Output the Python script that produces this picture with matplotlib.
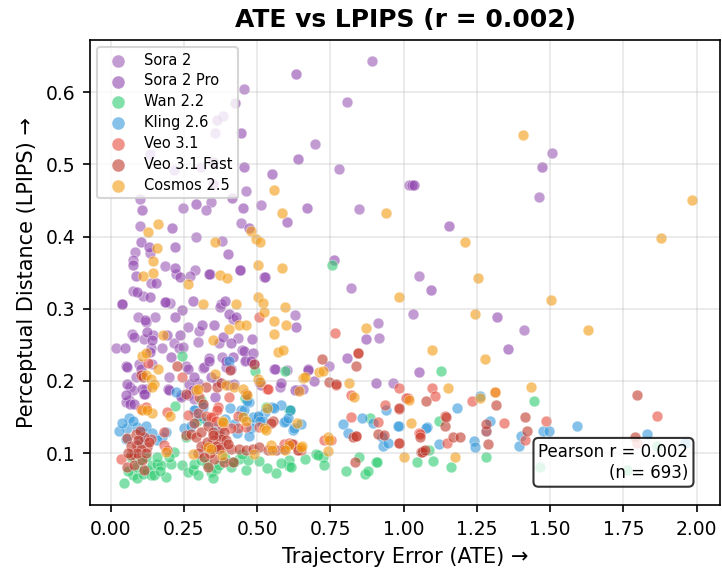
import matplotlib
matplotlib.use("Agg")
import matplotlib.pyplot as plt

# ATE vs LPIPS per model
sora2_x = [0.892, 0.456, 0.807, 0.385, 0.357, 0.699, 0.779, 0.134, 0.308, 0.217, 1.018, 0.462,
           0.100, 0.344, 0.248, 0.325, 0.512, 0.847, 0.102, 0.445, 0.291, 0.382, 0.135, 0.083,
           0.076, 0.187, 0.225, 0.289, 0.443, 1.506, 1.462, 1.052, 1.032, 1.411, 0.272, 0.137,
           0.075, 0.112, 0.038, 0.203, 0.377, 0.821, 0.095, 0.151, 0.120, 0.263, 0.303, 0.374,
           0.419, 0.630, 0.072, 0.146, 0.115, 0.215, 0.300, 0.371, 0.434, 0.912, 0.916, 0.018,
           0.137, 0.174, 0.234, 0.097, 0.257, 0.317, 0.382, 0.411, 0.447, 0.462, 0.491, 0.601,
           0.744, 0.066, 0.063, 0.118, 0.240, 0.297, 0.405, 0.579, 0.656, 0.963, 0.054, 0.078,
           0.120, 0.263, 0.285, 0.639, 0.320, 0.365, 0.459, 0.559, 0.088, 0.200, 0.143, 0.189,
           0.525, 0.249, 0.337, 0.394, 0.422]
sora2_y = [0.643, 0.605, 0.587, 0.567, 0.544, 0.528, 0.493, 0.515, 0.496, 0.492, 0.472, 0.463,
           0.452, 0.448, 0.440, 0.437, 0.443, 0.438, 0.414, 0.419, 0.399, 0.394, 0.377, 0.379,
           0.367, 0.359, 0.348, 0.353, 0.354, 0.516, 0.455, 0.346, 0.292, 0.270, 0.346, 0.335,
           0.325, 0.318, 0.307, 0.308, 0.307, 0.329, 0.289, 0.289, 0.281, 0.275, 0.269, 0.302,
           0.286, 0.291, 0.265, 0.264, 0.258, 0.252, 0.254, 0.252, 0.260, 0.280, 0.259, 0.246,
           0.246, 0.245, 0.245, 0.224, 0.221, 0.218, 0.233, 0.216, 0.243, 0.229, 0.224, 0.215,
           0.220, 0.192, 0.173, 0.182, 0.180, 0.197, 0.194, 0.191, 0.189, 0.197, 0.171, 0.188,
           0.189, 0.181, 0.175, 0.187, 0.219, 0.200, 0.228, 0.217, 0.205, 0.205, 0.224, 0.309,
           0.344, 0.247, 0.231, 0.219, 0.196]

sora2pro_x = [0.633, 0.425, 0.363, 0.445, 0.640, 0.348, 0.456, 0.550, 0.350, 0.414, 0.109,
              0.293, 0.451, 0.669, 0.602, 0.209, 0.474, 0.103, 0.131, 0.220, 0.400, 0.075,
              0.762, 0.220, 0.237, 0.338, 0.526, 0.086, 1.473, 1.030, 1.035, 1.154, 1.093,
              1.319, 1.357, 1.052, 0.154, 0.092, 0.135, 0.186, 0.281, 0.389, 0.245, 0.117,
              0.220, 0.312, 0.354, 0.405, 0.428, 0.633, 0.080, 0.124, 0.140, 0.194, 0.237,
              0.385, 0.411, 0.483, 0.873, 0.050, 0.135, 0.208, 0.054, 0.103, 0.266, 0.337,
              0.394, 0.419, 0.456, 0.485, 0.562, 0.673, 0.806, 0.057, 0.052, 0.109, 0.197,
              0.268, 0.356, 0.508, 0.582, 0.630, 0.907, 0.067, 0.080, 0.115, 0.198, 0.242,
              0.280, 0.514, 0.696, 0.343, 0.479, 0.675, 0.285, 0.055, 0.040, 0.337, 0.443]
sora2pro_y = [0.625, 0.585, 0.562, 0.544, 0.507, 0.503, 0.496, 0.486, 0.473, 0.453, 0.437,
              0.445, 0.439, 0.440, 0.420, 0.412, 0.412, 0.393, 0.386, 0.386, 0.376, 0.361,
              0.367, 0.357, 0.344, 0.348, 0.344, 0.346, 0.497, 0.472, 0.471, 0.414, 0.326,
              0.289, 0.244, 0.212, 0.335, 0.323, 0.316, 0.309, 0.310, 0.311, 0.298, 0.284,
              0.289, 0.277, 0.277, 0.293, 0.288, 0.275, 0.261, 0.268, 0.256, 0.264, 0.263,
              0.261, 0.252, 0.258, 0.258, 0.245, 0.240, 0.233, 0.220, 0.217, 0.216, 0.228,
              0.228, 0.233, 0.241, 0.238, 0.216, 0.216, 0.231, 0.196, 0.180, 0.189, 0.189,
              0.195, 0.178, 0.198, 0.197, 0.187, 0.197, 0.168, 0.168, 0.182, 0.188, 0.178,
              0.188, 0.194, 0.200, 0.206, 0.228, 0.215, 0.206, 0.219, 0.306, 0.348, 0.353]

wan_x = [0.757, 1.129, 1.445, 1.280, 1.864, 1.467, 1.762, 1.121, 1.086, 1.047, 1.102, 1.162,
         0.244, 0.597, 0.493, 0.221, 0.460, 0.531, 0.610, 0.884, 0.847, 0.906, 0.804, 0.867,
         0.878, 0.702, 0.724, 0.730, 0.662, 0.608, 0.610, 0.582, 0.565, 0.533, 0.508, 0.462,
         0.308, 0.295, 0.317, 0.217, 0.046, 0.075, 0.092, 0.112, 0.126, 0.143, 0.160, 0.172,
         0.188, 0.206, 0.137, 0.069, 0.158, 0.245, 0.263, 0.280, 0.285, 0.257, 0.343, 0.359,
         0.439, 0.468, 0.616, 0.707, 0.909, 0.614, 0.090, 0.100, 0.150, 0.170, 0.200, 0.060,
         0.120, 0.310, 0.330, 0.370, 0.390, 0.410, 0.300, 0.350, 0.420, 0.450]
wan_y = [0.360, 0.214, 0.172, 0.094, 0.110, 0.081, 0.076, 0.144, 0.104, 0.088, 0.089, 0.080,
         0.234, 0.213, 0.213, 0.165, 0.176, 0.164, 0.160, 0.148, 0.094, 0.088, 0.075, 0.071,
         0.075, 0.098, 0.094, 0.084, 0.092, 0.091, 0.082, 0.086, 0.072, 0.079, 0.089, 0.076,
         0.173, 0.145, 0.148, 0.101, 0.058, 0.069, 0.065, 0.071, 0.076, 0.083, 0.085, 0.083,
         0.067, 0.085, 0.069, 0.094, 0.094, 0.084, 0.074, 0.076, 0.085, 0.122, 0.074, 0.078,
         0.092, 0.090, 0.081, 0.097, 0.088, 0.159, 0.080, 0.090, 0.070, 0.075, 0.095, 0.075,
         0.095, 0.090, 0.085, 0.083, 0.093, 0.080, 0.070, 0.066, 0.087, 0.098]

kling_x = [0.986, 1.081, 1.121, 1.260, 1.184, 1.294, 1.283, 1.476, 1.496, 1.402, 1.394, 1.591,
           1.832, 1.960, 1.241, 1.243, 0.405, 0.223, 0.289, 0.293, 0.303, 0.407, 0.445, 0.471,
           0.528, 0.551, 0.582, 0.599, 0.508, 0.496, 0.519, 0.624, 0.795, 0.810, 0.859, 0.897,
           0.941, 0.980, 0.927, 0.929, 0.946, 0.285, 0.314, 0.063, 0.057, 0.052, 0.092, 0.109,
           0.120, 0.177, 0.188, 0.251, 0.274, 0.454, 0.466, 0.448, 0.485, 0.502, 0.511, 0.479,
           0.474, 0.559, 0.614, 0.593, 0.625, 0.605, 1.078, 0.030, 0.075, 0.100, 0.140, 0.160,
           0.040, 0.330, 0.360, 0.390, 0.420, 0.430, 0.370, 0.650]
kling_y = [0.137, 0.136, 0.113, 0.179, 0.162, 0.145, 0.130, 0.130, 0.130, 0.124, 0.110, 0.138,
           0.126, 0.114, 0.116, 0.108, 0.228, 0.185, 0.160, 0.155, 0.152, 0.162, 0.159, 0.171,
           0.157, 0.164, 0.166, 0.145, 0.150, 0.145, 0.145, 0.132, 0.140, 0.128, 0.148, 0.142,
           0.159, 0.137, 0.122, 0.110, 0.114, 0.159, 0.164, 0.148, 0.134, 0.120, 0.136, 0.129,
           0.138, 0.122, 0.129, 0.134, 0.138, 0.159, 0.172, 0.150, 0.150, 0.152, 0.145, 0.134,
           0.124, 0.162, 0.159, 0.143, 0.134, 0.148, 0.135, 0.130, 0.145, 0.117, 0.128, 0.118,
           0.142, 0.145, 0.138, 0.147, 0.140, 0.128, 0.128, 0.140]

veo_x = [1.097, 1.107, 1.014, 1.232, 1.312, 1.486, 1.342, 1.283, 1.414, 1.864, 1.796, 1.147,
         1.140, 0.986, 0.986, 1.052, 0.505, 0.765, 0.129, 0.245, 0.303, 0.534, 0.405, 0.368,
         0.819, 0.912, 0.938, 0.984, 0.730, 0.753, 0.103, 0.120, 0.191, 0.263, 0.300, 0.325,
         0.348, 0.591, 0.610, 0.622, 0.639, 0.650, 0.035, 0.137, 0.183, 0.183, 0.194, 0.365,
         0.536, 0.434, 0.462, 0.434, 0.411, 0.382, 0.343, 0.359, 0.838, 1.055, 0.844, 0.770,
         0.821, 1.009, 0.508]
veo_y = [0.190, 0.179, 0.176, 0.172, 0.185, 0.145, 0.142, 0.130, 0.118, 0.151, 0.114, 0.114,
         0.152, 0.190, 0.114, 0.128, 0.288, 0.266, 0.225, 0.206, 0.178, 0.189, 0.178, 0.164,
         0.150, 0.143, 0.167, 0.161, 0.118, 0.118, 0.161, 0.164, 0.157, 0.153, 0.155, 0.151,
         0.150, 0.112, 0.114, 0.112, 0.104, 0.104, 0.092, 0.120, 0.129, 0.111, 0.104, 0.159,
         0.189, 0.151, 0.136, 0.134, 0.134, 0.138, 0.150, 0.145, 0.124, 0.127, 0.239, 0.194,
         0.181, 0.176, 0.136]

veofast_x = [1.078, 1.415, 1.317, 1.283, 1.420, 1.287, 1.796, 1.790, 1.140, 1.146, 1.169,
             1.191, 1.055, 1.058, 1.066, 0.226, 0.103, 0.721, 0.838, 0.845, 0.747, 0.770,
             0.112, 0.257, 0.325, 0.363, 0.377, 0.462, 0.317, 0.553, 0.547, 0.827, 0.838,
             0.912, 0.986, 0.835, 0.488, 0.409, 0.055, 0.086, 0.092, 0.115, 0.126, 0.103,
             0.080, 0.069, 0.057, 0.080, 0.109, 0.115, 0.257, 0.274, 0.291, 0.308, 0.285,
             0.331, 0.348, 0.371, 0.388, 0.377, 0.348, 0.394, 0.325, 0.354, 0.382, 0.411,
             0.439, 0.462, 0.485, 0.508, 0.536, 0.565, 0.593, 0.618, 0.639, 0.354, 0.388,
             0.417, 0.331, 0.935, 1.064, 1.072, 0.986, 0.070, 0.090, 0.100, 0.120, 0.130,
             0.060, 0.095, 0.310, 0.330, 0.350, 0.360, 0.340, 0.370, 0.400, 0.300, 0.320]
veofast_y = [0.172, 0.150, 0.166, 0.140, 0.130, 0.112, 0.180, 0.122, 0.137, 0.150, 0.122,
             0.122, 0.122, 0.101, 0.103, 0.220, 0.208, 0.230, 0.220, 0.239, 0.198, 0.195,
             0.205, 0.182, 0.192, 0.192, 0.197, 0.182, 0.168, 0.144, 0.141, 0.122, 0.124,
             0.126, 0.114, 0.088, 0.224, 0.215, 0.121, 0.127, 0.111, 0.122, 0.108, 0.106,
             0.099, 0.097, 0.081, 0.083, 0.090, 0.076, 0.125, 0.127, 0.122, 0.129, 0.141,
             0.138, 0.129, 0.125, 0.129, 0.120, 0.118, 0.118, 0.108, 0.106, 0.108, 0.106,
             0.106, 0.104, 0.106, 0.108, 0.104, 0.104, 0.106, 0.113, 0.104, 0.092, 0.088,
             0.088, 0.081, 0.125, 0.101, 0.104, 0.162, 0.110, 0.100, 0.130, 0.100, 0.115,
             0.100, 0.118, 0.110, 0.115, 0.125, 0.110, 0.100, 0.105, 0.112, 0.100, 0.095]

cosmos_x = [1.407, 1.984, 1.210, 1.880, 1.255, 0.986, 1.503, 1.244, 1.630, 1.097, 1.278,
            1.153, 1.018, 1.262, 1.312, 1.436, 1.026, 1.001, 1.174, 0.557, 0.584, 0.940,
            0.162, 0.128, 0.481, 0.496, 0.510, 0.355, 0.160, 0.146, 0.502, 0.584, 0.146,
            0.110, 0.373, 0.396, 0.263, 0.317, 0.428, 0.504, 0.519, 0.525, 0.403, 0.437,
            0.462, 0.557, 0.599, 0.559, 0.179, 0.350, 0.873, 0.109, 0.120, 0.162, 0.502,
            0.510, 0.713, 0.724, 0.656, 0.120, 0.137, 0.149, 0.143, 0.291, 0.298, 0.357,
            0.394, 0.420, 0.453, 0.642, 0.813, 0.106, 0.141, 0.202, 0.379, 0.385, 0.451,
            0.462, 0.533, 0.635, 0.741, 0.747, 0.741, 0.654, 0.610, 0.596, 0.548, 0.551,
            0.126, 0.188, 0.283, 0.466, 0.525, 0.531, 0.331, 0.343, 0.382, 0.490, 0.650,
            0.832, 0.596, 0.573, 0.587, 0.662]
cosmos_y = [0.540, 0.450, 0.393, 0.398, 0.343, 0.316, 0.312, 0.293, 0.270, 0.243, 0.230,
            0.190, 0.173, 0.176, 0.185, 0.192, 0.142, 0.094, 0.095, 0.464, 0.433, 0.433,
            0.418, 0.406, 0.408, 0.396, 0.392, 0.392, 0.384, 0.366, 0.360, 0.357, 0.350,
            0.346, 0.347, 0.342, 0.334, 0.307, 0.307, 0.316, 0.308, 0.295, 0.272, 0.277,
            0.278, 0.283, 0.278, 0.265, 0.263, 0.256, 0.273, 0.234, 0.239, 0.216, 0.203,
            0.199, 0.212, 0.214, 0.204, 0.208, 0.203, 0.195, 0.192, 0.187, 0.189, 0.210,
            0.194, 0.192, 0.189, 0.186, 0.197, 0.160, 0.155, 0.151, 0.145, 0.143, 0.150,
            0.145, 0.162, 0.142, 0.122, 0.118, 0.103, 0.110, 0.111, 0.104, 0.111, 0.104,
            0.159, 0.101, 0.099, 0.180, 0.135, 0.132, 0.108, 0.106, 0.097, 0.099, 0.108,
            0.178, 0.302, 0.240, 0.243, 0.205]

series = [
    ("Sora 2", sora2_x, sora2_y, "#9b59b6"),
    ("Sora 2 Pro", sora2pro_x, sora2pro_y, "#8e44ad"),
    ("Wan 2.2", wan_x, wan_y, "#2ecc71"),
    ("Kling 2.6", kling_x, kling_y, "#3498db"),
    ("Veo 3.1", veo_x, veo_y, "#e74c3c"),
    ("Veo 3.1 Fast", veofast_x, veofast_y, "#c0392b"),
    ("Cosmos 2.5", cosmos_x, cosmos_y, "#f39c12"),
]

fig = plt.figure(figsize=(722 / 150, 571 / 150), dpi=150)
ax = fig.add_axes([0.1247, 0.1156, 0.8725, 0.8152])

for name, xs, ys, col in series:
    ax.scatter(xs, ys, s=27, color=col, alpha=0.6, edgecolors="white", linewidths=0.3, label=name)

ax.set_xlim(-0.07, 2.08)
ax.set_ylim(0.028, 0.673)
ax.grid(True, alpha=0.3)
ax.tick_params(labelsize=9)

ax.set_title("ATE vs LPIPS (r = 0.002)", fontsize=12, fontweight="bold")
ax.set_xlabel("Trajectory Error (ATE) →", fontsize=10)
ax.set_ylabel("Perceptual Distance (LPIPS) →", fontsize=10)

ax.legend(loc="upper left", fontsize=7, markerscale=1.2, labelspacing=0.4)

ax.text(0.95, 0.05, "Pearson r = 0.002\n(n = 693)", transform=ax.transAxes,
        fontsize=8, ha="right", va="bottom", multialignment="right",
        bbox=dict(boxstyle="round", facecolor="white", alpha=0.8))

fig.savefig("out.png", dpi=150)
